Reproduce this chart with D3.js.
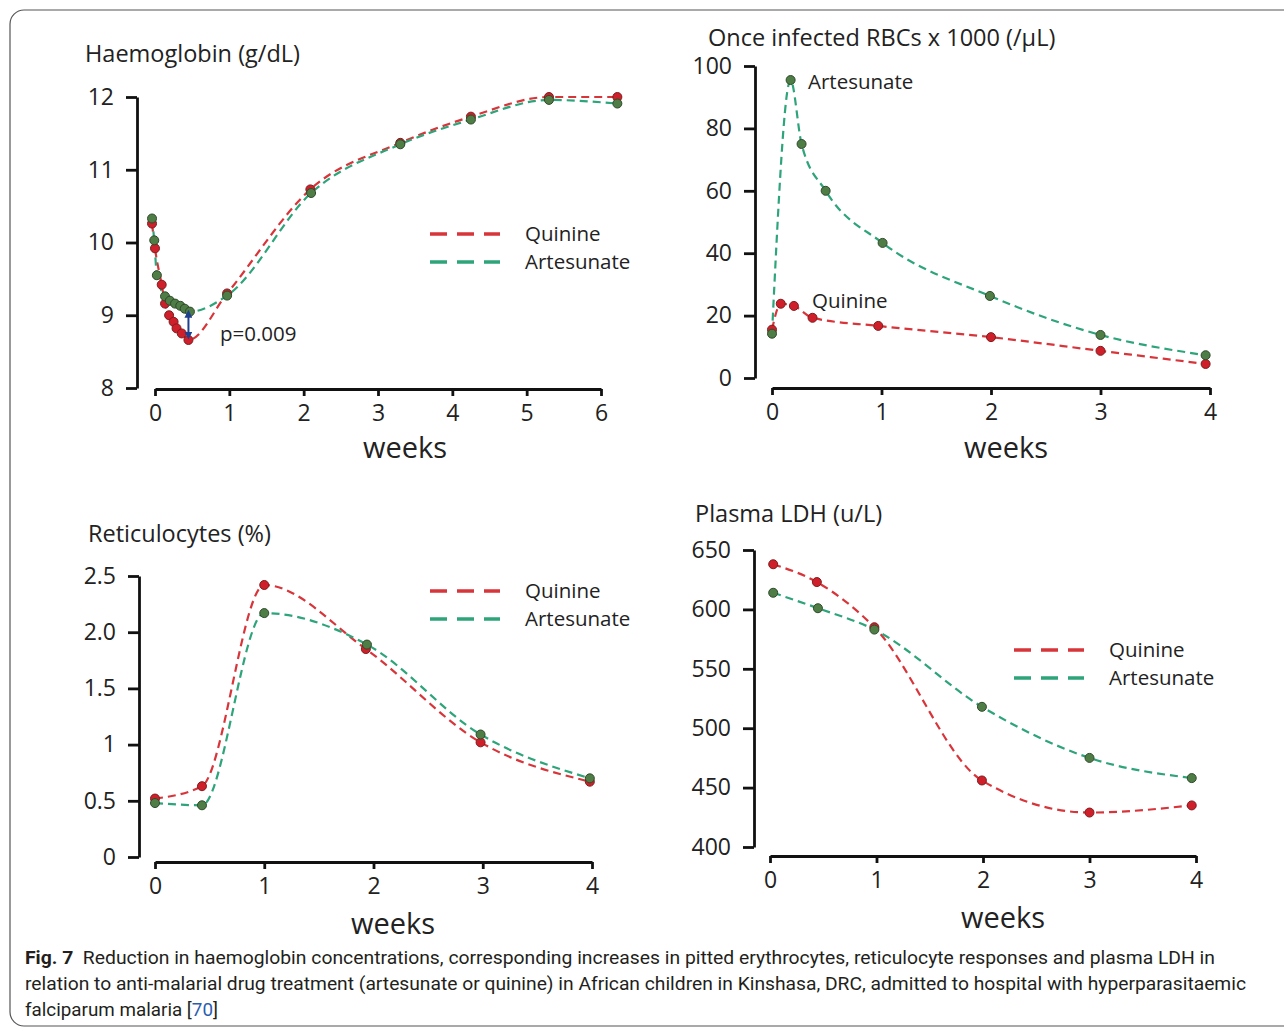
<!DOCTYPE html>
<html>
<head>
<meta charset="utf-8">
<script src="https://cdn.jsdelivr.net/npm/d3@7"></script>
<style>
  body { margin: 0; background: #fff; }
  svg { display: block; }
  .tick text { font-family: "Open Sans", sans-serif; font-size: 23px; fill: #222; }
  .axis path, .axis line { stroke: #111; stroke-width: 2.8; }
  .title { font-family: "Open Sans", sans-serif; font-size: 23.5px; fill: #222; }
  .weeks { font-family: "Open Sans", sans-serif; font-size: 29px; fill: #222; text-anchor: middle; }
  .legend { font-family: "Open Sans", sans-serif; font-size: 20.5px; fill: #222; }
  .caption { font-family: "Liberation Sans Narrow", "Roboto", sans-serif; font-size: 18px; fill: #231f20; }
</style>
</head>
<body>
<svg id="fig" width="1284" height="1029"></svg>
<script>
// Haemoglobin (g/dL)
const hbWeeksQ = [-0.04, 0.0, 0.09, 0.135, 0.19, 0.25, 0.29, 0.36, 0.45, 0.97, 2.09, 3.3, 4.25, 5.3, 6.22];
const hbQuinine = [10.26, 9.92, 9.42, 9.16, 9.0, 8.91, 8.82, 8.75, 8.66, 9.3, 10.73, 11.37, 11.73, 12.0, 12.0];
const hbWeeksA = [-0.04, -0.01, 0.025, 0.135, 0.2, 0.27, 0.34, 0.4, 0.47, 0.97, 2.1, 3.3, 4.25, 5.3, 6.22];
const hbArtesunate = [10.33, 10.03, 9.55, 9.26, 9.2, 9.16, 9.13, 9.09, 9.05, 9.27, 10.68, 11.35, 11.69, 11.96, 11.91];

// Once infected RBCs x 1000 (/uL)
const rbcWeeksQ = [0.0, 0.08, 0.2, 0.37, 0.97, 2.0, 3.0, 3.96];
const rbcQuinine = [15.5, 23.8, 23.1, 19.3, 16.7, 13.1, 8.7, 4.5];
const rbcWeeksA = [0.0, 0.17, 0.27, 0.49, 1.01, 1.99, 3.0, 3.96];
const rbcArtesunate = [14.2, 95.5, 75.0, 60.0, 43.3, 26.3, 13.8, 7.3];

// Reticulocytes (%)
const retWeeksQ = [0.0, 0.43, 1.0, 1.93, 2.98, 3.98];
const retQuinine = [0.52, 0.63, 2.42, 1.85, 1.02, 0.67];
const retWeeksA = [0.0, 0.43, 1.0, 1.94, 2.98, 3.98];
const retArtesunate = [0.48, 0.46, 2.17, 1.89, 1.09, 0.70];

// Plasma LDH (u/L)
const ldhWeeksQ = [0.03, 0.44, 0.98, 1.99, 3.0, 3.96];
const ldhQuinine = [638, 623, 585, 456, 429, 435];
const ldhWeeksA = [0.03, 0.45, 0.98, 1.99, 3.0, 3.96];
const ldhArtesunate = [614, 601, 583, 518, 475, 458];

// axis ticks
const hbYTicks = [8, 9, 10, 11, 12];
const hbYLabels = ['8', '9', '10', '11', '12'];
const rbcYTicks = [0, 20, 40, 60, 80, 100];
const rbcYLabels = ['0', '20', '40', '60', '80', '100'];
const retYTicks = [0, 0.5, 1, 1.5, 2, 2.5];
const retYLabels = ['0', '0.5', '1', '1.5', '2.0', '2.5'];
const ldhYTicks = [400, 450, 500, 550, 600, 650];
const ldhYLabels = ['400', '450', '500', '550', '600', '650'];
const weeks6 = [0, 1, 2, 3, 4, 5, 6];
const weeks4 = [0, 1, 2, 3, 4];

const seriesNames = ['Quinine', 'Artesunate'];
const lineColor = { Quinine: '#d8353a', Artesunate: '#2ea47a' };
const dotFill = { Quinine: '#cf1f2b', Artesunate: '#4f7d46' };
const dotStroke = { Quinine: '#7d1d1d', Artesunate: '#2f4a2a' };

const svg = d3.select('#fig');
svg.append('rect').attr('width', 1284).attr('height', 1029).attr('fill', '#fff');
svg.append('rect')
    .attr('x', 10).attr('y', 10)
    .attr('width', 1290).attr('height', 1016)
    .attr('rx', 14)
    .attr('fill', 'none')
    .attr('stroke', '#555')
    .attr('stroke-width', 1.2);

const drawPanel = (p) => {
    const g = svg.append('g');
    const x = d3.scaleLinear().domain(p.xDomain).range(p.xRange);
    const y = d3.scaleLinear().domain(p.yDomain).range(p.yRange);

    const yAxis = d3.axisLeft(y)
        .tickValues(p.yTicks)
        .tickFormat((d, i) => p.yLabels[i])
        .tickSize(11)
        .tickSizeOuter(0)
        .tickPadding(12);
    g.append('g')
        .attr('class', 'axis')
        .attr('transform', 'translate(' + p.yAxisX + ',0)')
        .call(yAxis);

    const xAxis = d3.axisBottom(x)
        .tickValues(p.xTicks)
        .tickFormat(d3.format('d'))
        .tickSize(7)
        .tickSizeOuter(0)
        .tickPadding(9);
    g.append('g')
        .attr('class', 'axis')
        .attr('transform', 'translate(0,' + p.xAxisY + ')')
        .call(xAxis);

    g.append('text')
        .attr('class', 'title')
        .attr('x', p.titleX).attr('y', p.titleY)
        .text(p.title);

    g.append('text')
        .attr('class', 'weeks')
        .attr('x', p.weeksX).attr('y', p.weeksY)
        .text('weeks');

    const line = d3.line()
        .x(d => x(d[0]))
        .y(d => y(d[1]))
        .curve(d3.curveMonotoneX);

    const series = [
        { name: 'Quinine', pts: d3.zip(p.wq, p.q) },
        { name: 'Artesunate', pts: d3.zip(p.wa, p.a) }
    ];

    g.selectAll('path.fit')
        .data(series)
        .enter()
        .append('path')
        .attr('class', 'fit')
        .attr('d', d => line(d.pts))
        .attr('fill', 'none')
        .attr('stroke', d => lineColor[d.name])
        .attr('stroke-width', 2.2)
        .attr('stroke-dasharray', '8,5');

    series.forEach(s => {
        g.selectAll(null)
            .data(s.pts)
            .enter()
            .append('circle')
            .attr('cx', d => x(d[0]))
            .attr('cy', d => y(d[1]))
            .attr('r', 4.5)
            .attr('fill', dotFill[s.name])
            .attr('stroke', dotStroke[s.name])
            .attr('stroke-width', 1);
    });

    if (p.legend) {
        const lg = g.append('g').attr('transform', 'translate(' + p.legend[0] + ',' + p.legend[1] + ')');
        seriesNames.forEach((name, i) => {
            lg.append('line')
                .attr('x1', 0).attr('x2', 70)
                .attr('y1', i * 28).attr('y2', i * 28)
                .attr('stroke', lineColor[name])
                .attr('stroke-width', 3.5)
                .attr('stroke-dasharray', '17,10');
            lg.append('text')
                .attr('class', 'legend')
                .attr('x', 95).attr('y', i * 28 + 7)
                .text(name);
        });
    }
    return { g, x, y };
};

const hb = drawPanel({
    title: 'Haemoglobin (g/dL)', titleX: 85, titleY: 62,
    xDomain: [0, 6], xRange: [155, 601], xTicks: weeks6, xAxisY: 389,
    yDomain: [8, 12], yRange: [388, 97], yTicks: hbYTicks, yLabels: hbYLabels, yAxisX: 137,
    wq: hbWeeksQ, q: hbQuinine, wa: hbWeeksA, a: hbArtesunate,
    weeksX: 405, weeksY: 458, legend: [430, 234]
});

// p-value annotation with double arrow
const defs = svg.append('defs');
['start', 'end'].forEach(k => {
    defs.append('marker')
        .attr('id', 'arr-' + k)
        .attr('viewBox', '0 0 10 10')
        .attr('refX', 5).attr('refY', 5)
        .attr('markerWidth', 4).attr('markerHeight', 4)
        .attr('orient', k === 'start' ? 'auto-start-reverse' : 'auto')
        .append('path')
        .attr('d', 'M0,0 L10,5 L0,10 Z')
        .attr('fill', '#1f3f8f');
});
hb.g.append('line')
    .attr('x1', hb.x(0.45)).attr('x2', hb.x(0.45))
    .attr('y1', hb.y(9.02)).attr('y2', hb.y(8.72))
    .attr('stroke', '#1f3f8f')
    .attr('stroke-width', 2)
    .attr('marker-start', 'url(#arr-start)')
    .attr('marker-end', 'url(#arr-end)');
hb.g.append('text')
    .attr('class', 'legend')
    .attr('x', 220).attr('y', 341)
    .attr('font-size', '21.5px')
    .text('p=0.009');

const rbc = drawPanel({
    title: 'Once infected RBCs x 1000 (/\u00B5L)', titleX: 708, titleY: 46,
    xDomain: [0, 4], xRange: [772, 1210], xTicks: weeks4, xAxisY: 388,
    yDomain: [0, 100], yRange: [378, 66], yTicks: rbcYTicks, yLabels: rbcYLabels, yAxisX: 755,
    wq: rbcWeeksQ, q: rbcQuinine, wa: rbcWeeksA, a: rbcArtesunate,
    weeksX: 1006, weeksY: 458, legend: null
});
rbc.g.append('text').attr('class', 'legend').attr('x', 808).attr('y', 89).text('Artesunate');
rbc.g.append('text').attr('class', 'legend').attr('x', 812).attr('y', 308).text('Quinine');

drawPanel({
    title: 'Reticulocytes (%)', titleX: 88, titleY: 542,
    xDomain: [0, 4], xRange: [155, 592], xTicks: weeks4, xAxisY: 862,
    yDomain: [0, 2.5], yRange: [857, 576], yTicks: retYTicks, yLabels: retYLabels, yAxisX: 139,
    wq: retWeeksQ, q: retQuinine, wa: retWeeksA, a: retArtesunate,
    weeksX: 393, weeksY: 934, legend: [430, 591]
});

drawPanel({
    title: 'Plasma LDH (u/L)', titleX: 695, titleY: 522,
    xDomain: [0, 4], xRange: [770, 1196], xTicks: weeks4, xAxisY: 856,
    yDomain: [400, 650], yRange: [847, 550], yTicks: ldhYTicks, yLabels: ldhYLabels, yAxisX: 754,
    wq: ldhWeeksQ, q: ldhQuinine, wa: ldhWeeksA, a: ldhArtesunate,
    weeksX: 1003, weeksY: 928, legend: [1014, 650]
});

// caption
const cap1 = svg.append('text').attr('class', 'caption')
    .attr('x', 25).attr('y', 964)
    .attr('textLength', 1190).attr('lengthAdjust', 'spacingAndGlyphs');
cap1.append('tspan').attr('font-weight', 'bold').text('Fig. 7');
cap1.append('tspan').text('\u00A0 Reduction in haemoglobin concentrations, corresponding increases in pitted erythrocytes, reticulocyte responses and plasma LDH in');

svg.append('text').attr('class', 'caption')
    .attr('x', 25).attr('y', 990)
    .attr('textLength', 1221).attr('lengthAdjust', 'spacingAndGlyphs')
    .text('relation to anti-malarial drug treatment (artesunate or quinine) in African children in Kinshasa, DRC, admitted to hospital with hyperparasitaemic');

const cap3 = svg.append('text').attr('class', 'caption')
    .attr('x', 25).attr('y', 1016)
    .attr('textLength', 193).attr('lengthAdjust', 'spacingAndGlyphs');
cap3.append('tspan').text('falciparum malaria [');
cap3.append('tspan').attr('fill', '#2a5db0').text('70');
cap3.append('tspan').text(']');
</script>
</body>
</html>
